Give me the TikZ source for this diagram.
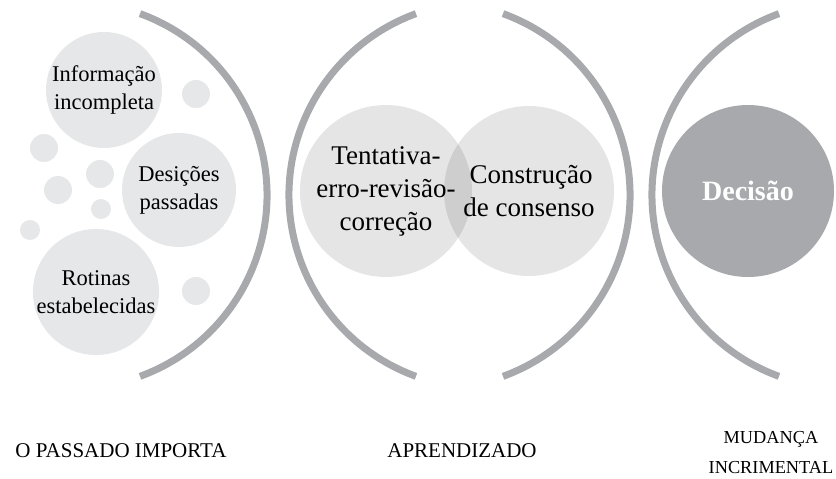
\documentclass[tikz,border=0pt]{standalone}
\usepackage{fontspec}
\setmainfont{Liberation Serif}
\usepackage{xcolor}
\definecolor{discgray}{HTML}{E6E7E8}
\definecolor{darkgray}{HTML}{A7A9AC}

\tikzset{
  bracket/.style={draw=darkgray, line width=7pt},
  disc/.style={circle, fill=discgray, inner sep=0pt, align=center, font=\fontsize{22.5}{28}\selectfont},
  blend/.style={circle, fill=black, fill opacity=0.1, text opacity=1, inner sep=0pt, align=center, font=\fontsize{27}{33}\selectfont},
  dot/.style={circle, fill=discgray, inner sep=0pt},
  caption/.style={align=center, font=\fontsize{21}{30}\selectfont}
}

\begin{document}
\begin{tikzpicture}[x=1pt, y=-1pt]
    \useasboundingbox (0,0) rectangle (836,479);

    \draw[bracket] (74,195) ++(-70:193) arc[start angle=-70, end angle=70, radius=193];
    \draw[bracket] (482,195) ++(110:193) arc[start angle=110, end angle=250, radius=193];
    \draw[bracket] (437,195) ++(-70:193) arc[start angle=-70, end angle=70, radius=193];
    \draw[bracket] (845,195) ++(110:193) arc[start angle=110, end angle=250, radius=193];

    \foreach \x/\y/\r [count=\i] in {196/94/14, 44/148/14, 100/174/14, 58/190/14, 101/209/10, 30/230/10, 196/291/14}
      \node[dot, minimum size=2*\r pt] (dot\i) at (\x,\y) {};

    \node[disc, minimum size=116pt] (info) at (104,90) {Informação\\incompleta};
    \node[disc, minimum size=114pt] (desicoes) at (179,190) {Desições\\passadas};
    \node[disc, minimum size=120pt] (rotinas) at (96,292) {Rotinas\\estabelecidas};

    \node[blend, minimum size=172pt] (tentativa) at (386,191) {Tentativa-\\erro-revisão-\\correção};
    \node[blend, minimum size=170pt] (consenso) at (529,191) {\hspace*{4pt}Construção\\de consenso};

    \node[circle, fill=darkgray, minimum size=172pt, text=white, font=\fontsize{28}{30}\selectfont\bfseries] (decisao) at (748,191) {Decisão};

    \node[caption] (passado) at (121,451) {O PASSADO IMPORTA};
    \node[caption] (aprendizado) at (462,451) {APRENDIZADO};
    \node[caption, font=\fontsize{18.3}{30}\selectfont] (mudanca) at (771,453) {MUDANÇA\\INCRIMENTAL};
\end{tikzpicture}
\end{document}
